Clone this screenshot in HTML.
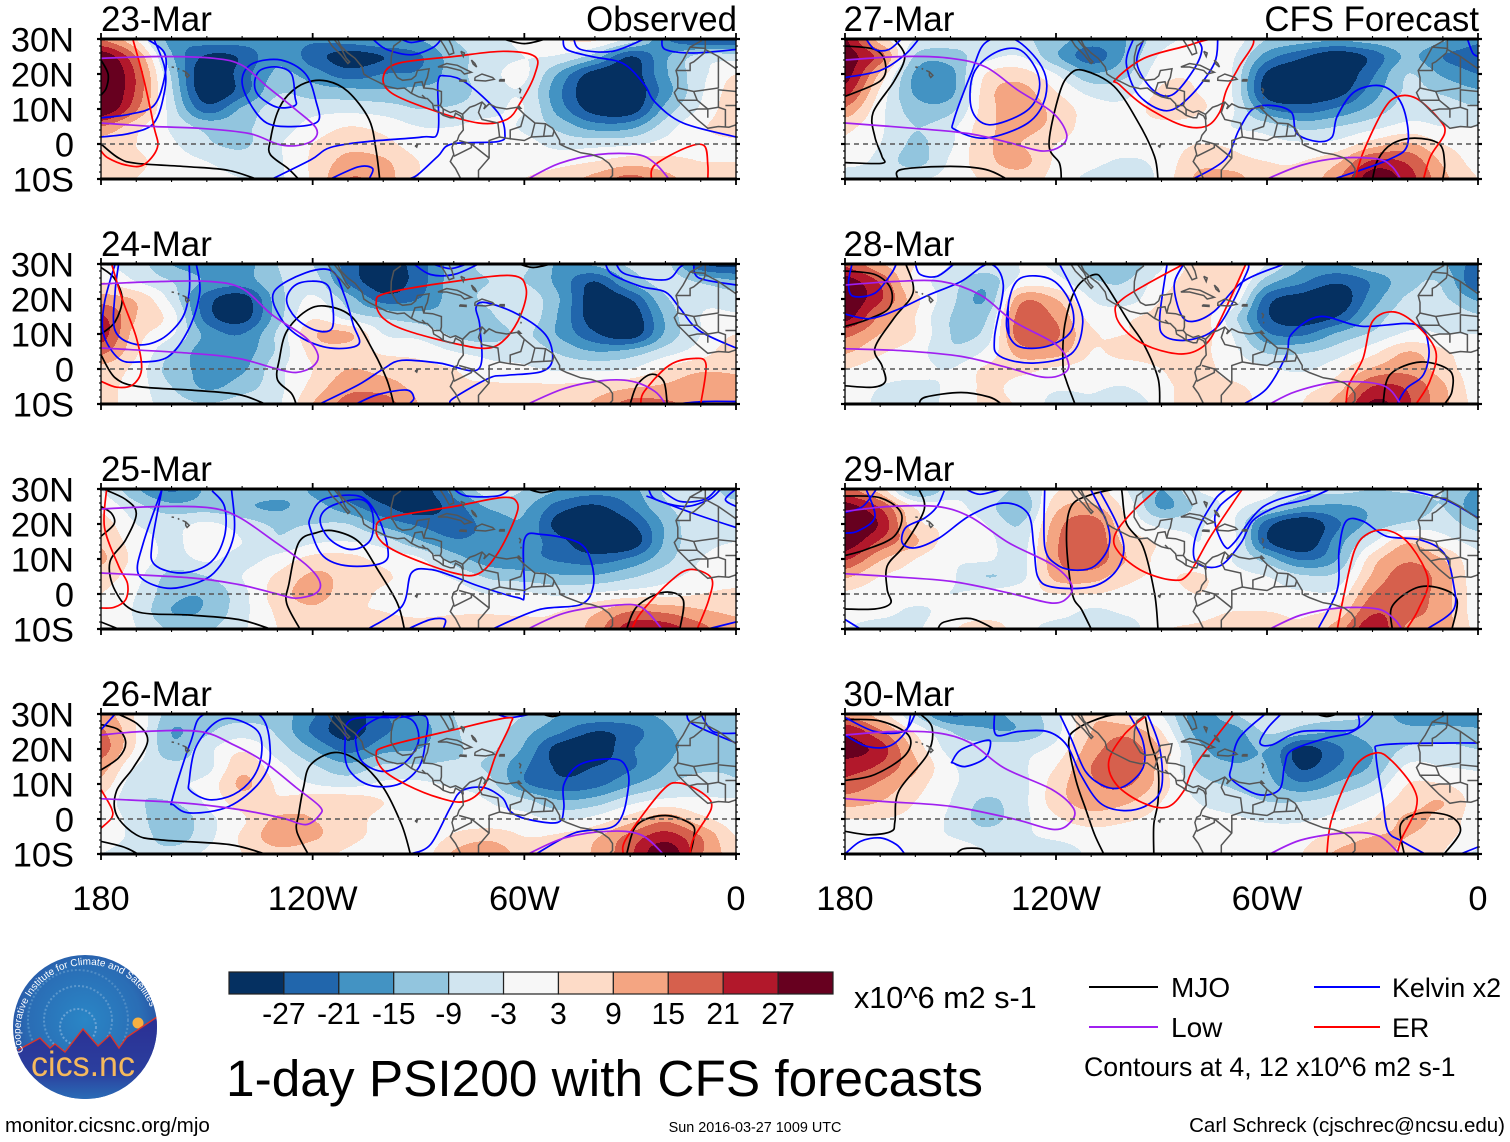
<!DOCTYPE html>
<html lang="en">
<head>
<meta charset="utf-8">
<title>1-day PSI200 with CFS forecasts</title>
<style>
html,body{margin:0;padding:0;background:#fff;width:1510px;height:1142px;overflow:hidden}
svg{display:block}
text{font-family:"Liberation Sans",Arial,sans-serif;fill:#000}
</style>
</head>
<body>
<svg id="chart" xmlns="http://www.w3.org/2000/svg" width="1510" height="1142" viewBox="0 0 1510 1142">
  <defs>
    <radialGradient id="logoSky" cx="50%" cy="45%" r="60%">
      <stop offset="0" stop-color="#2a86c6"/>
      <stop offset="0.65" stop-color="#2a6db5"/>
      <stop offset="1" stop-color="#27479c"/>
    </radialGradient>
    <linearGradient id="logoGround" x1="0" y1="0" x2="0" y2="1">
      <stop offset="0" stop-color="#2b2f94"/>
      <stop offset="0.6" stop-color="#2b3f9e"/>
      <stop offset="1" stop-color="#2a7fc0"/>
    </linearGradient>
    <clipPath id="logoClip"><circle cx="85" cy="1027" r="72"/></clipPath>
    <path id="logoArc" d="M 23.5 1052 A 66 66 0 1 1 152 1012"/>
  </defs>
  <g id="panels"></g>

  <g>
    <circle cx="85" cy="1027" r="72" fill="url(#logoSky)"/>
    <g clip-path="url(#logoClip)">
      <circle cx="78" cy="1027" r="18" fill="none" stroke="#6aa3d4" stroke-width="2" stroke-dasharray="2 2"/>
      <circle cx="78" cy="1020" r="34" fill="none" stroke="#5b97cc" stroke-width="2" stroke-dasharray="2 2"/>
      <circle cx="78" cy="1020" r="50" fill="none" stroke="#4f8cc5" stroke-width="2" stroke-dasharray="2 2"/>
      <circle cx="138" cy="1023" r="5.5" fill="#f6b042"/>
      <polygon points="13,1054 18,1050 40,1038 50,1048 55,1044 65,1052 83,1029 98,1046 110,1035 119,1048 127,1037 157,1017 160,1110 10,1110" fill="url(#logoGround)"/>
      <polyline points="18,1050 40,1038 50,1048 55,1044 65,1052 83,1029 98,1046 110,1035 119,1048 127,1037 157,1017" fill="none" stroke="#d8352c" stroke-width="1.4"/>
    </g>
    <text font-size="10" style="fill:#fff"><textPath href="#logoArc">Cooperative Institute for Climate and Satellites</textPath></text>
    <text x="31" y="1076" font-size="35" textLength="104" lengthAdjust="spacingAndGlyphs" style="fill:#f5b95c">cics.nc</text>
  </g>

  <g id="colorbar"></g>
  <text x="854" y="1008" font-size="30.6">x10^6 m2 s-1</text>
  <text x="226" y="1096" font-size="51.4">1-day PSI200 with CFS forecasts</text>

  <g>
    <line x1="1089" y1="987" x2="1158" y2="987" stroke="#000" stroke-width="2"/>
    <text x="1171" y="997" font-size="28">MJO</text>
    <line x1="1314" y1="987" x2="1380" y2="987" stroke="#0000ff" stroke-width="2"/>
    <text x="1392" y="997" font-size="26.9">Kelvin x2</text>
    <line x1="1089" y1="1027" x2="1158" y2="1027" stroke="#a020f0" stroke-width="2"/>
    <text x="1171" y="1037" font-size="28">Low</text>
    <line x1="1314" y1="1027" x2="1380" y2="1027" stroke="#ff0000" stroke-width="2"/>
    <text x="1392" y="1037" font-size="26.9">ER</text>
    <text x="1084" y="1076" font-size="26.7">Contours at 4, 12 x10^6 m2 s-1</text>
  </g>

  <text x="5" y="1132" font-size="20.6">monitor.cicsnc.org/mjo</text>
  <text x="755" y="1132" font-size="14.4" text-anchor="middle">Sun 2016-03-27 1009 UTC</text>
  <text x="1505" y="1132" font-size="20.5" text-anchor="end">Carl Schreck (cjschrec@ncsu.edu)</text>
</svg>

<script>
// ---- grid axes for the PSI200 anomaly fields (degrees west, degrees north) ----
const gridLons = [180,170,160,150,140,130,120,110,100,90,80,70,60,50,40,30,20,10,0];
const gridLats = [30,25,20,15,10,5,0,-5,-10];
const latTicks = [30,20,10,0,-10];
const latLabels = ['30N','20N','10N','0','10S'];
const lonTicks = [180,120,60,0];
const lonLabels = ['180','120W','60W','0'];
const bandLevels = [-27,-21,-15,-9,-3,3,9,15,21,27];
const bandColors = ['#053061','#2166ac','#4393c3','#92c5de','#d1e5f0','#f7f7f7','#fddbc7','#f4a582','#d6604d','#b2182b','#67001f'];
const panelDates = ['23-Mar','24-Mar','25-Mar','26-Mar','27-Mar','28-Mar','29-Mar','30-Mar'];

// ---- PSI200 values (x10^6 m2 s-1) by panel: rows follow gridLats, columns gridLons ----
const psi23 = [
[15,3,-18,-18,-18,-18,-20,-18,-15,-15,-9,-6,-1,3,4,-5,-20,-27,-27],
[32,15,-14,-28,-26,-16,-24,-30,-27,-22,-12,-6,-3,-4,-12,-27,-16,-7,-6],
[36,20,-10,-33,-24,-14,-18,-24,-21,-20,-12,-5,-2,-16,-30,-31,-16,-5,3],
[36,20,-8,-32,-24,-10,-12,-13,-14,-13,-12,-6,-4,-20,-33,-33,-18,-4,6],
[34,16,-6,-24,-14,-6,-5,-5,-6,-9,-8,-5,-3,-18,-30,-31,-13,-2,7],
[15,5,-4,-11,-10,-6,-1,3,1,-3,-3,-1,-4,-11,-18,-17,-6,2,6],
[6,3,-2,-8,-10,-4,3,7,5,0,0,0,-1,-5,-5,-4,-1,1,2],
[4,4,0,-3,-6,-4,4,11,10,3,0,0,0,1,3,6,5,3,3],
[3,3,0,-1,-3,-4,4,15,12,3,0,0,3,6,11,17,11,6,9]];
const psi24 = [
[-3,-6,-15,-18,-18,-9,-9,-24,-30,-24,-12,-8,-8,-16,-14,-8,-7,-26,-29],
[3,-3,-9,-16,-18,-10,-6,-22,-31,-24,-12,-9,-9,-17,-27,-14,-6,-10,-14],
[12,8,-5,-24,-30,-12,-2,-12,-24,-21,-12,-8,-5,-15,-31,-27,-10,-5,-6],
[22,9,0,-24,-30,-12,2,-6,-10,-12,-13,-10,-5,-16,-31,-32,-14,-3,-2],
[24,6,-2,-17,-21,-8,8,10,-3,-5,-10,-12,-8,-16,-26,-31,-14,-3,3],
[17,4,-9,-18,-18,-8,5,6,2,1,-3,-5,-5,-10,-15,-13,-6,0,7],
[7,1,-12,-16,-16,-5,3,9,7,5,3,-1,-2,-4,-4,-3,4,8,8],
[5,0,-9,-16,-12,-5,5,13,12,7,4,4,4,4,5,8,10,12,12],
[5,0,-6,-9,-6,-4,9,17,18,9,6,5,6,6,10,17,16,13,13]];
const psi25 = [
[-3,-14,-22,-14,-11,-12,-16,-24,-31,-31,-18,-5,-9,-15,-18,-17,-8,-6,-12],
[1,-7,-13,-12,-14,-16,-13,-19,-26,-31,-24,-14,-14,-24,-28,-21,-10,-6,-7],
[6,-3,-5,-2,-6,-10,-9,-9,-17,-22,-24,-19,-16,-30,-34,-28,-14,-4,-4],
[8,0,-4,0,-3,-8,-4,-3,-6,-14,-20,-19,-18,-25,-33,-32,-14,-5,-3],
[10,1,-5,-2,-5,-1,5,5,1,-2,-12,-18,-19,-22,-24,-20,-11,-3,-1],
[6,-1,-11,-9,-3,4,10,7,4,0,-4,-10,-12,-14,-14,-10,-5,-1,-1],
[3,-3,-13,-14,-5,6,11,6,2,0,0,-3,-2,-4,-2,0,1,3,5],
[2,-4,-15,-14,-5,4,8,4,3,1,2,2,2,3,8,15,14,10,8],
[2,-3,-10,-10,-4,3,8,9,7,7,8,8,5,4,12,24,24,17,11]];
const psi26 = [
[12,2,-12,-11,-11,-12,-20,-30,-22,-16,-9,-5,-9,-15,-16,-16,-14,-11,-11],
[16,3,-15,-10,-6,-10,-22,-30,-22,-18,-10,-6,-13,-20,-27,-24,-16,-13,-11],
[18,2,-13,-5,2,-6,-15,-23,-17,-15,-10,-8,-16,-30,-32,-22,-16,-14,-12],
[12,-3,-7,-5,7,-1,-8,-13,-8,-8,-8,-10,-20,-28,-27,-22,-15,-11,-10],
[7,-7,-4,-1,10,2,-3,-5,-2,-2,-4,-7,-20,-25,-23,-16,-10,-5,-8],
[1,-8,-9,-2,6,4,7,7,3,0,0,-3,-7,-14,-12,-5,-1,-2,-2],
[1,-6,-14,-5,2,10,9,6,1,-1,0,-1,-1,-4,-1,6,13,5,0],
[0,-5,-12,-5,4,12,10,5,1,-2,4,7,3,4,8,17,24,15,3],
[-3,-6,-7,-2,3,7,5,2,-1,-1,10,14,6,5,10,20,32,16,6]];
const psi27 = [
[28,6,-3,-6,-6,-8,-12,-18,-15,-5,-2,0,-9,-12,-14,-12,-10,-14,-20],
[30,18,-10,-12,-5,-3,-14,-24,-14,-2,0,-2,-18,-26,-32,-25,-14,-21,-24],
[30,8,-16,-17,3,6,-3,-14,-10,1,2,-3,-28,-33,-33,-22,-9,-16,-21],
[24,2,-16,-17,6,11,3,-5,-5,4,3,-3,-30,-33,-30,-18,-8,-10,-14],
[14,-1,-12,-11,6,12,7,0,-1,6,4,-2,-20,-24,-20,-13,-6,-6,-8],
[5,-2,-9,-5,7,11,7,0,0,1,1,-3,-6,-11,-9,-5,-1,-3,-3],
[2,-3,-10,-4,8,9,3,0,0,0,3,2,-1,-2,-1,6,10,3,0],
[0,-5,-11,-2,7,11,2,-1,-4,-1,7,5,3,3,8,22,20,8,1],
[-9,-6,-4,-1,4,6,1,-5,-9,-1,10,12,4,5,14,31,24,11,3]];
const psi28 = [
[20,10,3,-3,-5,-3,-4,-12,-13,-4,5,6,-3,-14,-16,-11,-10,-14,-24],
[30,20,1,-6,-13,-1,-1,-8,-9,0,6,6,-12,-20,-26,-20,-11,-10,-27],
[32,22,5,-7,-15,13,9,-3,-6,3,6,3,-24,-30,-32,-18,-8,-8,-16],
[30,14,3,-9,-10,18,14,1,2,5,7,-6,-26,-31,-27,-13,-5,-4,-8],
[17,9,3,-9,-7,19,16,4,3,6,6,-3,-20,-22,-14,-8,-2,-3,-3],
[10,4,0,-8,-2,12,12,3,5,6,5,-1,-10,-10,-6,1,9,4,-1],
[3,0,-1,-3,4,5,2,1,0,3,5,1,-2,-4,1,10,13,6,0],
[1,-3,-4,-2,4,1,-2,-2,-3,2,4,4,1,1,6,21,20,10,0],
[0,-4,-4,-2,4,2,-5,-4,-7,0,8,7,1,3,12,28,22,11,1]];
const psi29 = [
[17,6,-16,-6,-3,-10,2,6,-3,-15,-3,-1,-1,-7,-7,-9,-8,-9,-16],
[30,20,2,-1,-6,-14,7,10,1,-16,-8,-2,-7,-15,-16,-14,-13,-9,-19],
[36,26,5,2,-3,-9,12,19,3,-5,-4,-2,-24,-33,-22,-13,-8,-6,-12],
[32,20,10,0,-1,-6,14,20,7,2,-3,-1,-26,-33,-18,-4,8,0,-5],
[22,10,3,-2,-2,-5,14,19,9,1,-2,-3,-12,-22,-15,6,14,9,-2],
[10,3,1,-2,-9,-5,11,12,5,2,4,-1,-3,-8,-7,10,18,12,-1],
[2,0,0,-3,-1,1,3,3,1,0,3,0,-1,-2,-1,15,18,12,0],
[0,-1,-4,-1,0,1,0,-4,-2,0,1,3,3,2,5,20,17,12,0],
[-3,-6,-4,2,6,0,-6,-6,-6,2,4,6,6,4,12,25,14,12,1]];
const psi30 = [
[14,6,-9,-22,-17,-13,-5,8,3,-3,-18,-10,-3,-6,-6,-10,-18,-18,-18],
[26,16,2,-9,-14,-14,-5,9,13,3,-17,-18,-8,-12,-15,-12,-13,-13,-14],
[30,24,7,-5,-6,-5,-1,12,18,8,-12,-18,-15,-29,-22,-15,-8,-7,-9],
[24,20,10,-2,-5,-4,3,15,20,6,-10,-14,-15,-28,-21,-14,-2,-3,-4],
[19,14,6,-2,-5,-5,6,14,16,6,-6,-10,-13,-20,-14,-8,3,3,-1],
[12,9,3,-3,-10,-5,6,12,10,3,-3,-6,-9,-9,-6,-1,6,9,0],
[3,3,1,-4,-11,-5,2,6,4,1,-1,-2,-4,-4,-1,3,10,7,0],
[0,0,0,-3,-6,-4,-2,0,0,0,0,0,0,1,5,9,9,5,0],
[-1,-1,0,3,-3,-5,-6,-2,0,0,0,0,1,3,10,12,7,3,-4]];
const psiFields = [psi23,psi24,psi25,psi26,psi27,psi28,psi29,psi30];

// ---- filtered-wave contours: each is a flat list of degW,degN pairs ----
const mjo23 = [
[180,24,178,20,178.5,16,180,14],
[124,-10,127,-7,132,-3,132,1,130,9,127,14,122,17.5,116,18,110,15,104,7,102,-2,101,-10],
[180,0,175,-4,170,-5.5,155,-6.5,144,-7.5,136,-10],
[66,30,60,28.7,54,30]];
const kelvin23 = [
[167,30,162,26,162,19,165,11,172,8.5,180,7.5],
[165,30,162,22,162,15,165,6,172,3,180,2],
[140,18.5,137,23,129,24,122,20,119,12,118.5,6.5,125,5,133,6,138,12,140,18.5],
[136.5,17,135,21,130,22,126,20,125,13.5,125,11,130,10.5,135,13.5,136.5,17],
[103,30,99,27,92,25.5,86,27.5,83.5,30],
[95,30,92,29,87,30],
[131.5,-10,120.5,-4.5,115,-1,104.5,0.7,89,2,84.5,3.5,84.5,17.5,82.5,19.5,76.5,17.5,67.5,9,65.5,3,67.5,0.7,80.5,0,84.5,-3.5,90.5,-9,93.5,-10],
[115,-10,107,-6.5,103,-7,104,-10],
[49,30,48,27,41,25,32,23,26,17,23,12,15,6,0,2],
[46,30,44,27,35,26.5,26,30],
[21,30,20,27,12,26,0,27]];
const er23 = [
[171,30,168,19,165,5,164,-1,168,-6,173,-6,178,-4,180,-2],
[100,19,96,23,80,25,66,26.5,57,25,57,20,61,12,65,7,73,6,87,10,97.5,14.5,100,19],
[24,-10,23,-6,14,-1,9,-0.5,8,-6,8,-10]];
const low23 = [
[180,24.5,163,25,148,24.5,140,22.5,133,16.5,125,10,119,4.5,120,1,125,-0.5,130,0,138,3,152,4.5,165,5,180,6],
[59,-10,50,-5.5,39,-3,28,-3,23,-5.5,19,-10]];

const mjo24 = [
[180,29,176.3,26,174,20,176,13.5,180,10],
[180,4,176,-2.5,169.5,-5,155,-6,141,-7.3,133.5,-10],
[124.7,-10,126,-7,130,-3,129.4,3,127.4,10.7,122,16.5,116.5,18,109,15,103,5.5,99,-3,97,-10],
[61.5,30,57.5,29,52.5,30],
[30,-10,28,-4.5,24,-1.5,20.5,-3.5,19.5,-10]];
const kelvin24 = [
[175,30,176,22,176,11,170,7,163,8.5,157,14.5,155,22,155,30],
[176,30,179,19,179.3,10,175,3,169.5,2,161,3.5,155,11.7,152,22,153,30],
[131,22,122,27.5,114.5,28,111,21,108.5,12.7,107,7,115,6,123.3,9,129,14.5,131,22],
[127.4,20,124,24.5,116.5,24.5,114.5,19.5,114.5,11.7,119,11,124.7,14.5,127.4,20],
[91.3,30,86.6,27,80,27,73,30],
[86,30,81,28.7,76.4,30],
[118,-10,107,-4.5,100,0,94.7,2.5,84,1.7,73,0,72.6,12,73.7,17.5,71,19,62,15.7,54,9.8,52,3,55,-0.7,65,-1.8,70,-2.6,80,-8.3,81,-10],
[107.7,-10,101.5,-7.3,93.4,-6,91.3,-8.3,92.7,-10],
[37,30,35,27,27,23.6,20,22,16,17.5,10.5,11,0,6],
[34,30,31,27,20,25.5,16,29,14.5,30],
[12,30,10.5,26,0,24],
[17,-10,9,-9.3,0,-9.3]];
const er24 = [
[177,30,174,20,170,9,168.5,0,171,-4.5,175.6,-5.2,180,-3.5],
[102,19,99,21.7,80,25,63.5,26.7,59.5,23,61,15.5,65,9,70,6,78.5,7,93.4,11,100,14.5,102,19],
[27,-10,26,-6.4,19,1,12,3,8.5,1.3,10,-10]];
const low24 = [
[180,24.3,163,25,149,25,140,23,131.5,15.5,122,9,118.5,4,120,0.7,124.7,-1,130,0,141,3,154.5,4.5,180,6],
[59,-10,48.5,-5.5,37.5,-3.3,29.5,-3.5,23,-6.4,20,-10]];

const mjo25 = [
[179.3,30,173,27,170,23,173,15.5,177.5,9,176,1,170,-5,155,-6,141,-7.3,132,-10],
[180,25,177,23,176.3,20,180,16.5],
[180,-8,175,-10],
[123.6,-10,127.4,-2.6,126.7,3,124,14.6,119,17.5,113.8,18,107,15,101.6,7,96,-2.6,94,-10],
[59,30,55,29,50,30],
[31,-10,28,-3.5,20.6,0.5,15,-1.6,15.9,-10]];
const kelvin25 = [
[162.7,30,168,14.6,169.5,6,164,2.2,157,2,148,6,142.4,16.5,143,30],
[162.7,30,165.5,14.6,164.8,8.4,157,6,149,9,145,16.5,145,25,148.5,29.5],
[120.6,22,117,27,107,28,102,23,98.8,13.6,100,9,109.7,8,117,10.8,120.6,18.4,120.6,22],
[117.9,21,115,25,106.3,27,103,23,103.6,15.5,109,12.7,115,15.5,117.9,21],
[80,30,76.4,28,67.6,28,64,30],
[104.3,-10,94.7,-3.5,92,6,86.6,7,80,5,73,2.3,62,-1,60,0,60,15.5,55,17,44.5,14.6,41,9,40.5,2,44,-3,56,-4.5,69,-10],
[93,-10,86.6,-7.3,82.5,-7.3,83,-10],
[24.8,30,22.7,27,14.5,25,7.7,27,4.3,30],
[21.5,30,16,26.5,9,27,5.5,30],
[25.4,28,12,23,0,19],
[0,30,3,27,0,25],
[8,-10,0,-8]];
const er25 = [
[178.4,30,179,19,175,8,172.5,3,173,-1.6,176.3,-3.8,180,-4],
[102,18.4,99,21.7,80,25,66,27.6,62,26,62.8,21.2,67.5,11.7,73,5.8,80,6,93.4,10.8,100,14.5,102,18.4],
[29.5,-10,27,-5.4,19.3,3,13.2,7,7,4.6,7.7,-1.6,11,-10]];
const low25 = [
[180,24.3,163,25,149,24.6,141,22,131.5,15.5,122,8.5,118,3.6,119,0.3,124.7,-1.2,130,0,141,2.7,154.5,4.6,180,6],
[59,-10,48.5,-5.4,35,-3.3,27,-3.7,21,-10]];

const mjo26 = [
[180,27,175,25.5,173,21.7,175,17.5,180,14],
[175.2,30,169.5,27,166.8,22.2,170.9,14.6,175.6,8,175.6,1.2,170,-4.5,162.8,-6,143.7,-7.3,133.5,-10],
[180,-6.4,173.6,-8,169.5,-10],
[121.3,-10,124.5,-3.5,124,1.2,122.6,9,120.6,15.5,113.8,19,107,16.5,100,9,94.8,-1.6,92.3,-10],
[55,30,52,29.3,49,30],
[31,-10,28,-1.6,20,1,12.5,-1.6,12,-5.4,13,-10]];
const kelvin26 = [
[180,25.5,176,30],
[159.7,6,154.6,22,150.5,30,135.5,30,132,19,134.8,10.8,143.7,3.6,154.6,1.7,159.4,4,159.7,6],
[155,10.8,153.2,20.3,147.8,27.4,142.4,28.6,135.5,25,134.5,18.4,137,11.7,142.4,7,149.2,5.5,154.6,8,155,10.8],
[110.8,22.2,109,28.4,96,29,88,29.3,88,22.2,90,14.6,96,9.8,104.3,9.8,110,14.6,110.8,22.2],
[107,25,100,29.3,92,28.4,90,22.2,94,16,100,13.6,105.6,16,107.6,20.7,107,25],
[68,30,64,29,58,30],
[92.3,-10,86.6,-7.3,81,3.2,77.8,8,71.6,9,66.2,6,64,2.2,59.4,0,50.6,-1,48.8,3,48.8,9.8,44.4,15.5,35.6,17.2,31.5,15.5,30.5,9,34,-1.6,45.8,-4,56.7,-10],
[14,30,12,27,0,21.7],
[10,30,6.5,25,0,24.5]];
const er26 = [
[180,8.4,177,3,177,0.3,180,-2.6],
[102,18.4,99,20.8,80,25.5,65,28.9,64,27,68,18.4,71.6,9,77,5,84,6,93.4,9.8,100,14,102,18.4],
[32,-10,31,-5.4,21,8,16,10.3,9,7,7,3,12,-5.4,13,-10]];
const low26 = [
[180,24,168,25,152,25,142.4,21.2,134,16.5,124.7,9,118,3.6,118,1.2,122,-1.6,128.7,0.3,141,2.7,157,4.6,180,5.8],
[59,-10,48.6,-5.4,36.3,-3.5,27,-4.5,20.6,-10]];

const mjo27 = [
[180,28,171.5,27,168.5,23,170,18,180,13.6],
[166,30,163,25,166,18,172,9,171.5,2,169.5,-3.5,169.5,-5.5,180,-5.3],
[165,-10,164,-7.3,150,-6.4,140,-7.3,134,-10],
[118.5,-10,119,-5.5,122,0,119,14.5,116,20,112,21,103.5,16.5,96.5,6,92,-3.5,91,-10],
[30,-10,28.5,-4.5,24.5,0,18,1.7,11,0,9.5,-5.5,10,-10]];
const kelvin27 = [
[174,30,171.5,27,167.5,27,164,30],
[180,19,170,21,163,25.5,159,30],
[149,7,144,20.5,140,29,132,30,124,22,123,13.5,128,6,140,1.7,148.5,4,149,7],
[144,10,143.5,20,137.5,26,130.5,27,125.5,21,125,14.5,129,9,139,5.5,144,10],
[98,30,100,23,96.5,14,88.5,9.5,81.5,14,75,23,74,30],
[95,30,97,23,92.5,15.5,87,14,81,21,78.5,27,80,30],
[81,-10,72,-4.5,68,4,64,10,58.5,11,53,9,51.5,3,45.5,0.7,41.5,2,40,8,35,15,27,16.5,21.5,11,20,0,25.5,-4.5,41,-10],
[3,30,1.5,26,0,25]];
const er27 = [
[103,18.5,95,24.5,83,28,75.5,30,64,30,68,22,71.5,15.5,73.5,9,77.5,5,84.5,5.5,95,11,102,17,103,18.5],
[35,-10,32.5,-2,27,9.5,23,13.5,17.5,13,11,7,9.5,3,13.5,-3.5,15.5,-10]];
const low27 = [
[180,24,163.5,25,150,24.5,140,22,131,15.5,121,9,117,3,118.5,-0.5,124,-2,133,0.3,145,3,160.5,4.5,180,6],
[60,-10,50,-6,39,-4,28.5,-4.3,24.5,-6.4,22,-10]];

const mjo28 = [
[180,28,171.5,27,167,23,167.5,17.4,174,14,180,12.2],
[162.7,30,160.6,22,166,14.6,171.5,6,169.5,1,168.5,-3.5,172,-5.2,180,-4.8],
[159,-10,157,-8,147,-6.7,139,-8,135.5,-10],
[114.6,-10,117,-3.5,118,1,117.5,12.7,114.3,23,109,27,106,24.3,99.3,13.5,95,7,91,-2.6,90.5,-10],
[27,-10,25,-1.6,16.3,2,8,-0.5,7.4,-6.4,9.5,-10]];
const kelvin28 = [
[178,30,179,24.5,177.7,20.8,171.5,21.7,167,27,165.4,30],
[180,15.7,173,14.4,165,17,156.5,21,147,25,139,30,135,24,137.5,9,136,3.7,126.6,1.7,115.7,4.3,112.4,13,114.4,20.7,119,30],
[133.4,10,133.4,19.5,130,26,121.2,25.5,115.7,18.4,115.7,10.8,122.5,6.5,130.7,6.5,134,11.7,133.4,19.5],
[160,30,158.6,27,153.8,26.5,149,30],
[88.4,30,90.5,14.6,89,9.3,81.6,8.4,73.5,12.7,66,27,65.3,30],
[83.7,30,86.4,24,84.4,15.5,81,13.6,75,16.5,66.8,25,55,30],
[66.6,-10,60,-5.5,54.5,4,53,10,45,15,33,12.2,17.6,12.7,14,6,15.5,-1.6,20.3,-5.5,23,-10]];
const er28 = [
[83.7,30,100.7,20.3,103,15.5,99.3,10,92.5,6,83.7,4.3,77.5,7,73.5,13.6,66,30],
[37.5,-10,36.7,-4.5,32.7,3,30,13.6,24,16.3,17.6,12.7,12,5,13.7,-3.5,17.6,-10]];
const low28 = [
[180,24,166,25,152.5,25,141.6,21.2,132,13.6,120,7,116.4,1.3,118.4,-1.6,124,-2.3,133.4,0.3,147,3.6,163.4,5.2,180,5.8],
[59.2,-10,51.7,-6.4,39.5,-3.7,27,-4.7,22,-10]];

const mjo29 = [
[180,28,170,27.5,164,23,166,16.5,174,12.7,180,11],
[159,30,157.5,24,163.4,13.6,168,8,168,1.3,167,-2.6,171.5,-4.3,180,-4.3],
[153.6,-10,151.8,-8,144.3,-7,137.5,-10],
[110,-10,112.7,-4.5,115.4,0.2,117,15.4,115.7,25,110,28.4,102.8,30,101.4,30,100,20.3,95.3,13.6,92,0.3,91,-10],
[24.4,-10,24.4,-3.5,17.7,1.7,11,1.7,6,-1.6,7.4,-10]];
const kelvin29 = [
[174,30,171.5,22,176.3,18,180,17.4],
[180,23.3,175,25,171,30],
[145.7,30,141.6,28.5,135.4,30],
[151.8,29.5,153.8,25,157.3,21.7,162.7,19,163.7,14.6,160,13.2,153.2,16,144.3,22.5,134.8,26,128,23,126.3,13.6,125.2,5,121.1,2,110.2,2,103.4,6,100.7,12.7,102.8,20.3,107.5,29.3],
[123.2,30,123.2,13.6,119.8,8.4,114.3,6.8,109,8,105,13.6,105.5,20.3,110.2,30],
[42,30,49,27,57,25,64,21,67.4,14.6,73.5,8,80.3,9.3,80,17.4,74.8,27,71.4,30],
[67.4,30,73.5,25,74.8,20.3,72,13.6,69.4,14.6,61,25,47.6,29.6],
[45.5,-10,40,1.3,39.5,12.7,37.5,20.8,32.7,20.8,26,16.5,16.5,15.5,9.7,11.7,7,3,7,-4.5,14.5,-10],
[21,30,9.5,27,0,21.7],
[180,-7.3,175.6,-10]];
const er29 = [
[91.2,30,98.7,23,103.4,16.5,102,11.7,95.3,6.5,87,4,82.3,5.7,76,16.5,67,30],
[40,-10,38,0.3,35,12.7,31,17.4,25,18,19,13.6,14.2,4,17,-4.5,20.3,-10]];
const low29 = [
[180,23.6,167.5,25,153.8,25,144.3,22,133.4,14.6,121.1,8.4,115.7,3,116.4,-0.7,121.1,-2.6,133.4,0.3,149.8,3.6,167.5,5,180,5.8],
[59.2,-10,50.3,-6,39.5,-4,28.5,-4.3,23.7,-7.3,21.7,-10]];

const mjo30 = [
[180,28.4,170,28,162,24,162.7,18.4,171.5,12.7,180,11],
[158.6,30,155.2,26,156.6,18.4,164.7,8,165.8,-0.7,166.8,-3.5,173,-4.5,180,-3.5],
[148.4,-10,146.3,-8.5,141.6,-8.5,140,-10],
[106.4,-10,109,-4.5,111.6,3,114.3,11,116.4,22,113.7,26,106,29.3,100.7,30],
[94.6,29.3,93.2,22.2,91,14.6,91,5,92.2,-1.6,92.2,-10],
[46,30,43,29.3,40,30],
[21,-10,22,-1.6,16.3,1.7,8,0.8,5,-3.5,9.6,-10]];
const kelvin30 = [
[180,29,171.5,25,163.4,25,160,30],
[180,24,174,20.8,167.5,20.8,162.7,25,161.3,30],
[137.5,30,137,24,130.7,25,122.5,25,117,21.2,113,12.7,107.5,4.6,100.7,2.4,94,4,90,9,90.5,20.3,94,30],
[119,30,115.7,23,111.6,13.6,106,9.3,100.7,9.3,95.3,14.6,95.3,22.2,99.3,30],
[149.5,16.5,147,19.8,140.2,22.4,138.6,21.7,140.2,17.4,145.7,15,149.2,16,149.5,16.5],
[180,-10,175.6,-6.4,170,-5.4,165.4,-7.3,163,-10],
[60.5,30,68,23,70,15.3,70,11.3,62.6,7,56.5,8.4,55,15.3,53,19.6,43.5,23,36.7,24.5,32.6,27,29.6,30],
[56,30,59.8,26,62,21.7,58.5,21.2,50.3,25,35.3,25.5,34,30],
[0,21.7,8.3,21.7,27,21.2,29,18.4,27,5,25.6,-3.5,21.5,-6.4,15,-10],
[5,-10,0,-8]];
const er30 = [
[94.6,29.3,100.7,24,105,16.5,102.8,9.8,95.3,4.6,88.4,3.4,83.7,8,80.3,15.5,69.4,30],
[43,-10,41.5,0.3,35.3,14.6,29,18.9,24.4,16.5,18.3,8.8,17.6,3,21.6,-5.4,23,-10]];
const low30 = [
[180,24,166,25,153.8,24.6,144.3,21.7,134.8,14.6,121.1,8.4,115,3,115.7,-0.7,120.5,-3,132,0,149.8,3.6,167.5,4.9,180,5.8],
[59.2,-10,50.3,-6,38,-4,28.5,-4.7,22.3,-10]];

const mjoLines = [mjo23,mjo24,mjo25,mjo26,mjo27,mjo28,mjo29,mjo30];
const kelvinLines = [kelvin23,kelvin24,kelvin25,kelvin26,kelvin27,kelvin28,kelvin29,kelvin30];
const lowLines = [low23,low24,low25,low26,low27,low28,low29,low30];
const erLines = [er23,er24,er25,er26,er27,er28,er29,er30];

// ---- geography: coastlines and borders as degW,degN pairs ----
const coastlines = [
[115.8,30,114.5,28,112,25.5,110,23,109.5,23.5,110.5,24.5,112,27.5,114,30],
[113,30,112,28,110,26,108,24.5,106,22,105.5,20,104,19,102,18,99,16.5,96,15.8,94,16,92,14.5,90,13.5,88,13,87.5,13,86,11.5,85.7,10,84,9,83,8.2,81,7.5,80,7.5,79.5,8.8,78,8,77.5,7,77.3,4,78.5,2.5,79,1,80,0.5,80.5,-1,80,-3,81,-5,79.5,-7,78.5,-9,78,-10],
[95,29.5,97,28,97.7,25,97.8,22,96,19,94.5,18.2,92,18.5,90.8,19.5,90.3,21,87,21.5,87.5,19,88,18,88.5,16,86,15.8,83.5,15,83.5,12,83.8,11,83,10,81,9,79.5,9.5,77.5,8.5,75.5,10.5,74,11,72,12,71,11,71.5,10,70,11.5,68,10.5,65,10,62,10.5,60,8.5,57,6,54,5.8,52,4.5,50,1,50,0,48,-1,44,-2.5,41,-3,38,-4,36,-5.5,35,-7,35,-9,36,-10],
[84,30,82.7,28,81.3,25.5,80,26,80.5,28,81.5,30],
[84.5,22,82,23,79,22.5,75,20.5,77,20,78,21,82,22,84.5,22],
[74,19,72,20,69,19,68.5,18.5,71,18,74,18.2,74,19],
[67,18.4,65.7,18.4,65.7,18,67,18,67,18.4],
[78.3,18.3,76.5,18.2,76.5,17.9,78.3,18,78.3,18.3],
[78,26.5,77.3,25,77,26,78,26.5],
[75,24,74,23,73.5,22,74.5,22.8,75,24],
[61.5,16,61,15.5,61.3,14.5],
[60.9,13.5,61,13],
[61.7,11,61,10.2,61.7,10.2,61.7,11],
[160,22,159.3,21.9],
[158.2,21.6,157.8,21.3],
[156.9,21,156,20.6,155,19.6,155.6,19,156,19.6,156,20.6],
[91,-0.5,90.3,-0.3,90.5,-0.9,91,-0.5],
[10,30,9.8,29.5,13,27.7,15,24,17,21,16.5,19,16.5,16,17.5,14.7,16.5,12.5,15,11,13.5,9.5,11,7,8,4.5,5,5,2,4.8,0,5.5],
[17,21,13,21,13,23,12,23.5,9,26,8.7,27.3,13,27.7],
[8.7,27.3,8.7,30],
[8.7,27,5,25,5,16,12,15,16.5,16],
[5,25,0,21.5],
[12,15,11,12.5,14,12.5,16.5,12.5],
[11,12.5,8,10,8,7.5],
[8,10,5,10.5,3,9.8,3,5],
[5,10.5,5,15.5,0,15],
[3,11,0,11],
[13.3,9.5,11,10,8,10],
[72,12,73,9,72,7,67.5,6,67,2,70,1,70,-4,73,-7.5,73,-10],
[80,-3.5,75,-1,75,0,78.5,1],
[75,0,70,-4],
[60,8.5,61,5,64,4,64,1.5,67,2],
[57,6,58,2],
[54,5.8,54.5,2.3],
[51.5,4,52,2.3,58,2,60,1,64,1.5],
[73,-10,70,-11],
[92,14.5,91,17.5,89,17.8,88.5,16],
[89,14,88,13],
[85.7,11,83.8,11],
[83,8.2,83,10],
[77.5,8.5,77.3,7]];

// ---- layout ----
const colLeft = [101,845];
const colWidth = [635,633];
const rowTop = [39,264,489,714];
const panelHeight = 140;
const svgNS = 'http://www.w3.org/2000/svg';
const root = document.getElementById('panels');

function el(tag, parent) {
  const node = document.createElementNS(svgNS, tag);
  parent.appendChild(node);
  return node;
}
function cubic(a,b,c,d,t){
  return b + 0.5*t*(c-a + t*(2*a-5*b+4*c-d + t*(3*(b-c)+d-a)));
}
function fieldAt(grid, fi, fj){
  const nx = gridLons.length, ny = gridLats.length;
  const i = Math.min(Math.floor(fi), nx-2), j = Math.min(Math.floor(fj), ny-2);
  const tx = fi-i, ty = fj-j;
  const rows = [];
  for (let r=-1;r<=2;r++){
    const row = grid[Math.max(0,Math.min(ny-1,j+r))];
    rows.push(cubic(row[Math.max(0,i-1)],row[i],row[i+1],row[Math.min(nx-1,i+2)],tx));
  }
  return cubic(rows[0],rows[1],rows[2],rows[3],ty);
}
function bandOf(v){
  let b = 0;
  while (b < bandLevels.length && v >= bandLevels[b]) b++;
  return b;
}
function smoothPath(pts, xs, ys){
  const n = pts.length/2;
  const P = [];
  for (let k=0;k<n;k++) P.push([xs(pts[2*k]), ys(pts[2*k+1])]);
  const closed = n>3 && pts[0]===pts[2*n-2] && pts[1]===pts[2*n-1];
  const at = k => {
    if (closed) return P[((k%(n-1))+(n-1))%(n-1)];
    return P[Math.max(0,Math.min(n-1,k))];
  };
  let d = 'M'+P[0][0].toFixed(1)+' '+P[0][1].toFixed(1);
  for (let k=0;k<n-1;k++){
    const p0=at(k-1),p1=at(k),p2=at(k+1),p3=at(k+2);
    d += 'C'+(p1[0]+(p2[0]-p0[0])/6).toFixed(1)+' '+(p1[1]+(p2[1]-p0[1])/6).toFixed(1)+' '
            +(p2[0]-(p3[0]-p1[0])/6).toFixed(1)+' '+(p2[1]-(p3[1]-p1[1])/6).toFixed(1)+' '
            +p2[0].toFixed(1)+' '+p2[1].toFixed(1);
  }
  return d;
}

panelDates.forEach(function(date, idx){
  const col = idx<4 ? 0 : 1;
  const rowIdx = idx%4;
  const left = colLeft[col], width = colWidth[col], top = rowTop[rowIdx], h = panelHeight;
  const xs = w => left + (180-w)/180*width;
  const ys = lat => top + (30-lat)/40*h;

  const g = el('g', root);
  
  

  const clip = el('clipPath', g);
  clip.setAttribute('id', 'clip'+idx);
  const clipRect = el('rect', clip);
  clipRect.setAttribute('x', left);
  clipRect.setAttribute('y', top);
  clipRect.setAttribute('width', width);
  clipRect.setAttribute('height', h);

  // filled PSI bands: merged runs per 1px row
  const heat = el('g', g);
  
  
  heat.setAttribute('shape-rendering', 'crispEdges');
  const grid = psiFields[idx];
  for (let py=0; py<h; py+=1){
    const lat = 30-(py+0.5)/h*40;
    const fj = (gridLats[0]-lat)/(gridLats[0]-gridLats[1]);
    let runStart = 0, cur = -1;
    for (let px=0; px<=width; px++){
      let b = -2;
      if (px<width){
        const w = 180-(px+0.5)/width*180;
        const fi = (gridLons[0]-w)/(gridLons[0]-gridLons[1]);
        b = bandOf(fieldAt(grid, fi, fj));
      }
      if (b!==cur){
        if (cur>=0){
          const r = el('rect', heat);
          
          
          r.setAttribute('x', left+runStart);
          r.setAttribute('y', top+py);
          r.setAttribute('width', px-runStart);
          r.setAttribute('height', 1);
          r.setAttribute('fill', bandColors[cur]);
        }
        runStart = px; cur = b;
      }
    }
  }

  // contours
  const clipped = el('g', g);
  clipped.setAttribute('clip-path', 'url(#clip'+idx+')');
  
  
  function drawSeries(list, color, name){
    list.forEach(function(pts){
      const p = el('path', clipped);
      
      
      p.setAttribute('d', smoothPath(pts, xs, ys));
      p.setAttribute('fill', 'none');
      p.setAttribute('stroke', color);
      p.setAttribute('stroke-width', '1.7');
    });
  }
  drawSeries(mjoLines[idx], '#000000', 'mjo-contour');
  drawSeries(kelvinLines[idx], '#0000ff', 'kelvin-contour');
  drawSeries(erLines[idx], '#ff0000', 'er-contour');
  drawSeries(lowLines[idx], '#a020f0', 'low-contour');

  // coastlines
  const coast = el('g', clipped);
  
  
  coastlines.forEach(function(pts){
    const pl = el('polyline', coast);
    
    
    let s = '';
    for (let k=0;k<pts.length;k+=2) s += xs(pts[k]).toFixed(1)+','+ys(pts[k+1]).toFixed(1)+' ';
    pl.setAttribute('points', s);
    pl.setAttribute('fill', 'none');
    pl.setAttribute('stroke', '#555555');
    pl.setAttribute('stroke-width', '1.5');
  });

  // equator
  const eq = el('line', g);
  
  
  eq.setAttribute('x1', left);
  eq.setAttribute('x2', left+width);
  eq.setAttribute('y1', ys(0));
  eq.setAttribute('y2', ys(0));
  eq.setAttribute('stroke', '#555555');
  eq.setAttribute('stroke-width', '1.6');
  eq.setAttribute('stroke-dasharray', '5 4');

  // frame and ticks
  const axes = el('g', g);
  
  
  function tick(x1,y1,x2,y2,sw){
    const t = el('line', axes);
    
    
    t.setAttribute('x1', x1);
    t.setAttribute('y1', y1);
    t.setAttribute('x2', x2);
    t.setAttribute('y2', y2);
    t.setAttribute('stroke', '#000');
    t.setAttribute('stroke-width', sw);
  }
  for (let w=180; w>=0; w-=10){
    const major = lonTicks.indexOf(w)>=0;
    const len = major?6:3;
    tick(xs(w),top,xs(w),top-len,major?1.8:1.1);
    tick(xs(w),top+h,xs(w),top+h+len,major?1.8:1.1);
  }
  for (let lat=30; lat>=-10; lat-=2){
    const major = latTicks.indexOf(lat)>=0;
    const len = major?4:2;
    tick(left,ys(lat),left-len,ys(lat),major?2.2:1.1);
    tick(left+width,ys(lat),left+width+len,ys(lat),major?2.2:1.1);
  }
  tick(left-1,top,left+width+1,top,3);
  tick(left-1,top+h,left+width+1,top+h,3);
  tick(left,top,left,top+h,1.3);
  tick(left+width,top,left+width,top+h,1.3);

  // labels
  const dl = el('text', g);
  
  
  dl.setAttribute('x', col===0 ? left : left-1.5);
  dl.setAttribute('y', top-8);
  dl.setAttribute('font-size', '35');
  dl.textContent = date;

  if (rowIdx===0){
    const tr = el('text', g);
    
    
    tr.setAttribute('x', left+width+1);
    tr.setAttribute('y', top-8);
    tr.setAttribute('font-size', '34.8');
    tr.setAttribute('text-anchor', 'end');
    tr.textContent = col===0 ? 'Observed' : 'CFS Forecast';
  }
  if (col===0){
    latTicks.forEach(function(lat,k){
      const t = el('text', g);
      
      
      t.setAttribute('x', 74);
      t.setAttribute('y', ys(lat)+12.5);
      t.setAttribute('font-size', '34.4');
      t.setAttribute('text-anchor', 'end');
      t.textContent = latLabels[k];
    });
  }
  if (rowIdx===3){
    lonTicks.forEach(function(w,k){
      const t = el('text', g);
      
      
      t.setAttribute('x', xs(w));
      t.setAttribute('y', 910);
      t.setAttribute('font-size', '34.4');
      t.setAttribute('text-anchor', 'middle');
      t.textContent = lonLabels[k];
    });
  }
});

// ---- colorbar ----
const cb = document.getElementById('colorbar');
const cbLeft = 229, cbRight = 833, cbTop = 972, cbH = 22;
const cbW = (cbRight-cbLeft)/bandColors.length;
bandColors.forEach(function(c,k){
  const r = el('rect', cb);
  
  
  r.setAttribute('x', cbLeft+k*cbW);
  r.setAttribute('y', cbTop);
  r.setAttribute('width', cbW);
  r.setAttribute('height', cbH);
  r.setAttribute('fill', c);
  r.setAttribute('stroke', '#222');
  r.setAttribute('stroke-width', '1.2');
});
bandLevels.forEach(function(v,k){
  const t = el('text', cb);
  
  
  t.setAttribute('x', cbLeft+(k+1)*cbW);
  t.setAttribute('y', 1024);
  t.setAttribute('font-size', '30.2');
  t.setAttribute('text-anchor', 'middle');
  t.textContent = String(v);
});
</script>
</body>
</html>
